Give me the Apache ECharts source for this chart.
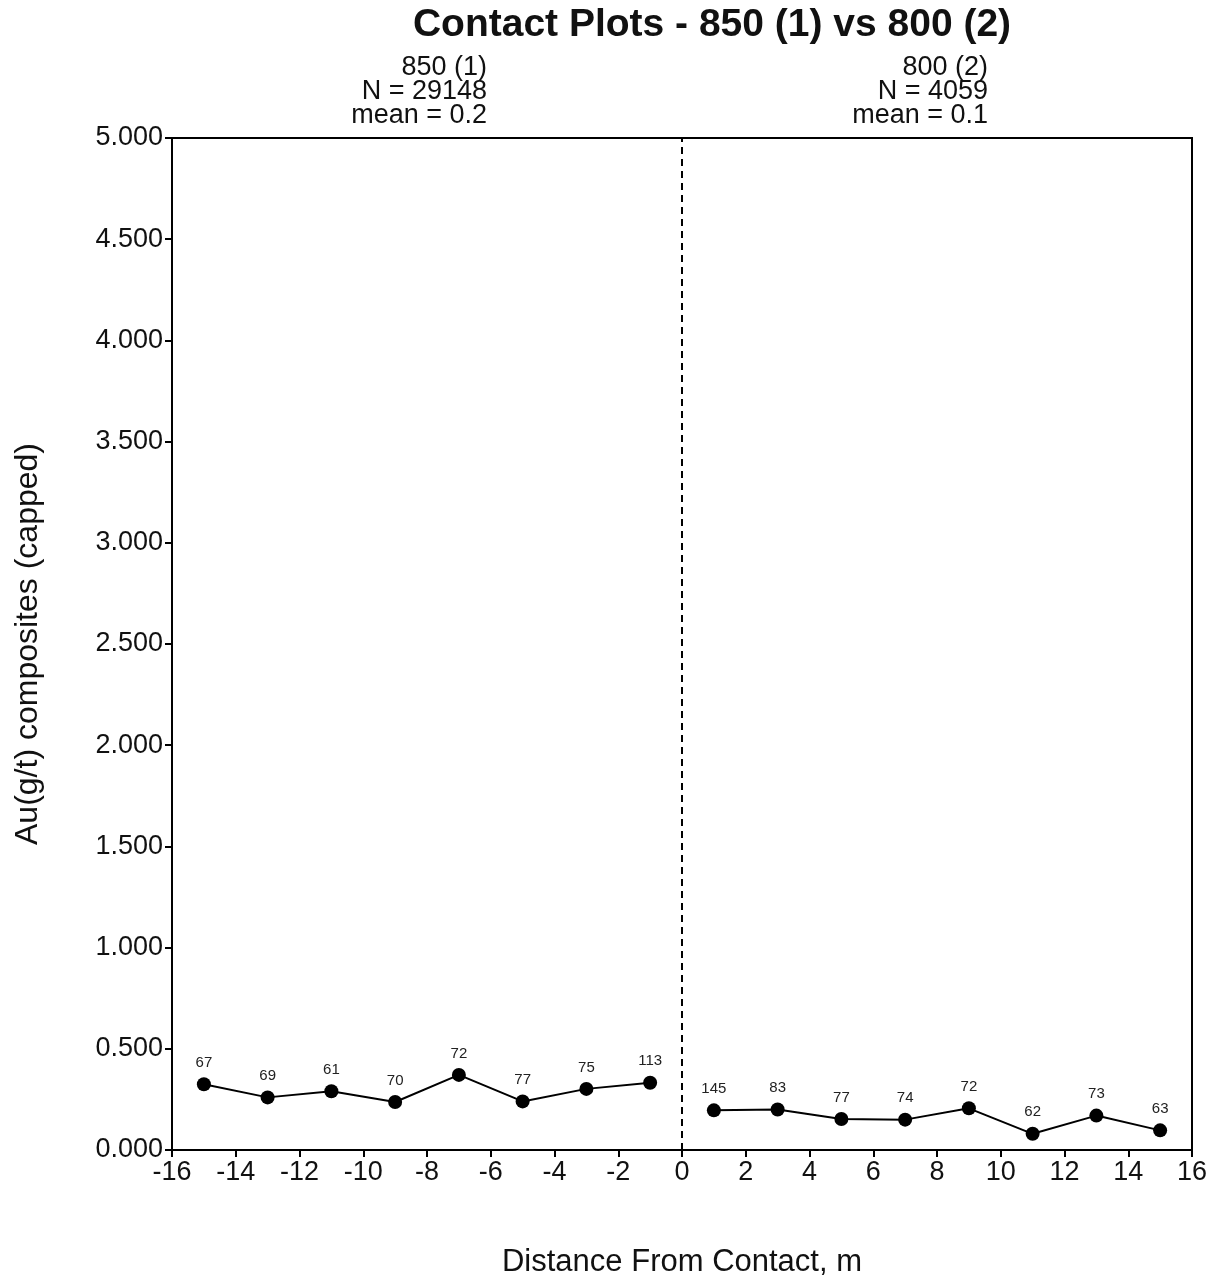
<!DOCTYPE html>
<html>
<head>
<meta charset="utf-8">
<script src="https://cdn.jsdelivr.net/npm/echarts@6/dist/echarts.min.js"></script>
<style>
  html, body { margin: 0; padding: 0; background: #fff; }
  #chart { width: 1214px; height: 1283px; }
</style>
</head>
<body>
<div id="chart"></div>
<script>
// distance bins, values
var leftX = [-15, -13, -11, -9, -7, -5, -3, -1];
var leftAu = [0.325, 0.26, 0.29, 0.237, 0.371, 0.24, 0.302, 0.332];
var leftN = [67, 69, 61, 70, 72, 77, 75, 113];

var rightX = [1, 3, 5, 7, 9, 11, 13, 15];
var rightAu = [0.196, 0.2, 0.153, 0.15, 0.206, 0.08, 0.17, 0.097];
var rightN = [145, 83, 77, 74, 72, 62, 73, 63];

var leftStats = ['850 (1)', 'N = 29148', 'mean = 0.2'];
var rightStats = ['800 (2)', 'N = 4059', 'mean = 0.1'];

function pairs(xs, ys, ns) {
  var out = [];
  for (var i = 0; i < xs.length; i++) out.push({ value: [xs[i], ys[i]], n: ns[i] });
  return out;
}

var font = 'Liberation Sans, Arial, sans-serif';

var myChart = echarts.init(document.getElementById('chart'));

var pointLabel = {
  show: true,
  position: 'top',
  distance: 7,
  fontSize: 15,
  fontFamily: font,
  color: '#222',
  formatter: function (p) { return p.data.n; }
};

myChart.setOption({
  backgroundColor: '#fff',
  animation: false,
  title: {
    text: 'Contact Plots - 850 (1) vs 800 (2)',
    left: 707,
    top: 1,
    textAlign: 'center',
    textStyle: { fontSize: 39, fontWeight: 'bold', fontFamily: font, color: '#111' }
  },
  graphic: [
    {
      type: 'text', x: 487, y: 56,
      style: { text: leftStats.join('\n'), align: 'right', fontSize: 27, lineHeight: 24, fontFamily: font, fill: '#111' }
    },
    {
      type: 'text', x: 988, y: 56,
      style: { text: rightStats.join('\n'), align: 'right', fontSize: 27, lineHeight: 24, fontFamily: font, fill: '#111' }
    }
  ],
  grid: {
    left: 172, right: 22, top: 138, bottom: 131,
    show: true, borderColor: '#000', borderWidth: 2, backgroundColor: 'transparent'
  },
  xAxis: {
    type: 'value', min: -16, max: 16, interval: 2,
    name: 'Distance From Contact, m',
    nameLocation: 'middle', nameGap: 97,
    nameTextStyle: { fontSize: 31, fontFamily: font, color: '#111' },
    axisLine: { show: true, onZero: false, lineStyle: { color: '#000', width: 2 } },
    axisTick: { show: true, length: 7, lineStyle: { color: '#000', width: 2 } },
    axisLabel: { fontSize: 27, fontFamily: font, color: '#111', margin: 9 },
    splitLine: { show: false }
  },
  yAxis: {
    type: 'value', min: 0, max: 5, interval: 0.5,
    name: 'Au(g/t) composites (capped)',
    nameLocation: 'middle', nameGap: 128, nameRotate: 90,
    nameTextStyle: { fontSize: 32, fontFamily: font, color: '#111' },
    axisLine: { show: true, onZero: false, lineStyle: { color: '#000', width: 2 } },
    axisTick: { show: true, length: 7, lineStyle: { color: '#000', width: 2 } },
    axisLabel: {
      fontSize: 27, fontFamily: font, color: '#111', margin: 9,
      formatter: function (v) { return v.toFixed(3); }
    },
    splitLine: { show: false }
  },
  series: [
    {
      type: 'line',
      data: pairs(leftX, leftAu, leftN),
      symbol: 'circle', symbolSize: 14,
      lineStyle: { color: '#000', width: 2 },
      itemStyle: { color: '#000' },
      label: pointLabel,
      markLine: {
        silent: true, symbol: 'none',
        label: { show: false },
        lineStyle: { color: '#000', width: 2, type: [7, 5] },
        data: [{ xAxis: 0 }]
      }
    },
    {
      type: 'line',
      data: pairs(rightX, rightAu, rightN),
      symbol: 'circle', symbolSize: 14,
      lineStyle: { color: '#000', width: 2 },
      itemStyle: { color: '#000' },
      label: pointLabel
    }
  ]
});
</script>
</body>
</html>
